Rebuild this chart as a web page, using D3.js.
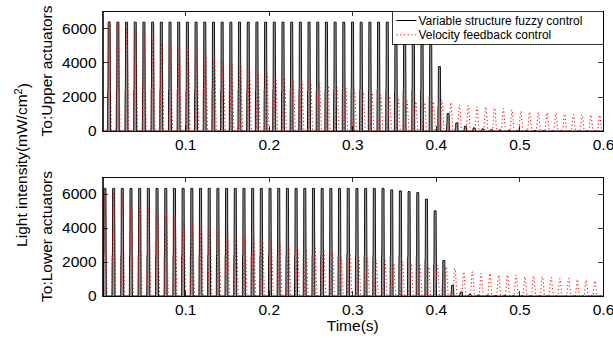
<!DOCTYPE html>
<html>
<head>
<meta charset="utf-8">
<title>Light intensity</title>
<style>
  body { margin: 0; background: #fff; }
  svg text { font-family: "Liberation Sans", Arial, sans-serif; fill: #000; }
  .axis path, .axis line { stroke: #000; stroke-width: 0.8; shape-rendering: crispEdges; }
  .axis text { font-size: 15.5px; }
</style>
</head>
<body>
<svg id="chart"></svg>
<script src="https://d3js.org/d3.v7.min.js"></script>
<script>
// tick values
const xTicks = [0.1, 0.2, 0.3, 0.4, 0.5, 0.6];
const yTicks = [0, 2000, 4000, 6000];
const xDomain = [0.001, 0.6];
const yDomain = [0, 7000];

// peak value of each cycle (mW/cm^2)
// variable structure fuzzy control, upper actuators (first peak 0.0091 s, period 0.0104 s)
const upperFuzzyStart = 0.0091, upperFuzzyPeriod = 0.0104;
const upperFuzzyPeaks = [
  6350, 6350, 6350, 6350, 6350, 6350, 6350, 6350, 6350, 6350,
  6350, 6350, 6350, 6350, 6350, 6350, 6350, 6350, 6350, 6350,
  6350, 6350, 6350, 6350, 6350, 6350, 6350, 6350, 6350, 6350,
  6350, 6350, 6350, 6350, 6350, 6350, 6350, 5400, 3760, 1020,
  470, 280, 180, 120, 80, 60, 45, 35, 30, 25,
  20, 20, 15, 15, 10, 10, 10
];
// velocity feedback control, upper actuators
const upperFeedbackStart = 0.0091, upperFeedbackPeriod = 0.01048;
const upperFeedbackPeaks = [
  6450, 6200, 6050, 5820, 5570, 5370, 5140, 4940, 4850, 4750,
  4600, 4450, 4250, 4050, 3900, 3750, 3550, 3450, 3350, 3200,
  3100, 3000, 2900, 2850, 2780, 2650, 2550, 2500, 2400, 2300,
  2200, 2100, 2000, 1850, 1750, 1700, 1650, 1700, 1800, 1650,
  1520, 1470, 1400, 1380, 1330, 1300, 1220, 1150, 1100, 1080,
  1050, 1020, 980, 950, 940, 930, 920
];
// variable structure fuzzy control, lower actuators
const lowerFuzzyStart = 0.004, lowerFuzzyPeriod = 0.0104;
const lowerFuzzyPeaks = [
  6330, 6330, 6330, 6330, 6330, 6330, 6330, 6330, 6330, 6330,
  6330, 6330, 6330, 6330, 6330, 6330, 6330, 6330, 6330, 6330,
  6330, 6330, 6330, 6330, 6330, 6330, 6330, 6330, 6330, 6330,
  6330, 6330, 6330, 6240, 6180, 6140, 6080, 5700, 5010, 2090,
  620, 230, 100, 60, 40, 30, 25, 20, 20, 15,
  15, 10, 10, 10, 10, 10, 10, 10
];
// velocity feedback control, lower actuators
const lowerFeedbackStart = 0.004, lowerFeedbackPeriod = 0.01047;
const lowerFeedbackPeaks = [
  6380, 6150, 5950, 5700, 5500, 5200, 4950, 4820, 4700, 4400,
  4250, 4120, 3900, 3820, 3720, 3620, 3530, 3380, 3330, 3250,
  3080, 2900, 2870, 2750, 2870, 2680, 2580, 2290, 2480, 2290,
  2190, 2090, 2090, 1900, 2000, 1900, 1800, 1700, 1800, 1700,
  1600, 1410, 1410, 1310, 1310, 1220, 1220, 1220, 1120, 1160,
  1120, 1080, 1020, 1020, 960, 920, 880
];

const legendLabels = ["Variable structure fuzzy control", "Velocity feedback control"];

// pulse outline around each peak: [time offset (s), fraction of peak]
const fuzzyShape = [[-0.0020, 0], [-0.0018, 0.37], [-0.0015, 0.39], [-0.0013, 1], [0.0011, 1], [0.0016, 0]];
const feedbackShape = [[-0.0024, 0], [-0.0004, 1], [0.0004, 1], [0.0024, 0]];

function pulses(start, period, peaks, shape) {
  let pts = [[xDomain[0] - 0.01, 0]];
  peaks.forEach(function(v, i) {
    const tp = start + i * period;
    shape.forEach(function(s) { pts.push([tp + s[0], s[1] * v]); });
  });
  pts.push([xDomain[1] + 0.01, 0]);
  return pts;
}

const W = 613, H = 338;
const left = 102.5, right = 603;
const panels = [
  {top: 11, bottom: 131, label: "To:Upper actuators",
   fuzzy: pulses(upperFuzzyStart, upperFuzzyPeriod, upperFuzzyPeaks, fuzzyShape),
   feedback: pulses(upperFeedbackStart, upperFeedbackPeriod, upperFeedbackPeaks, feedbackShape),
   legend: true},
  {top: 177, bottom: 296, label: "To:Lower actuators",
   fuzzy: pulses(lowerFuzzyStart, lowerFuzzyPeriod, lowerFuzzyPeaks, fuzzyShape),
   feedback: pulses(lowerFeedbackStart, lowerFeedbackPeriod, lowerFeedbackPeaks, feedbackShape),
   legend: false}
];

const svg = d3.select("#chart").attr("width", W).attr("height", H);

const x = d3.scaleLinear().domain(xDomain).range([left, right]);

panels.forEach(function(p, idx) {
  const y = d3.scaleLinear().domain(yDomain).range([p.bottom, p.top]);
  const clipId = "clip" + idx;
  svg.append("clipPath").attr("id", clipId)
    .append("rect")
    .attr("x", left).attr("y", p.top)
    .attr("width", right - left).attr("height", p.bottom - p.top);

  const line = d3.line()
    .x(function(d) { return x(d[0]); })
    .y(function(d) { return y(d[1]); });

  const g = svg.append("g").attr("clip-path", "url(#" + clipId + ")");
  g.append("path")
    .datum(p.fuzzy)
    .attr("fill", "#999")
    .attr("stroke", "#000")
    .attr("stroke-width", 0.9)
    .attr("stroke-linejoin", "round")
    .attr("d", line);
  g.append("path")
    .datum(p.feedback)
    .attr("fill", "none")
    .attr("stroke", "#ff0000")
    .attr("stroke-width", 1)
    .attr("stroke-dasharray", "1.2,2.5")
    .attr("d", line);

  // axes, ticks pointing inwards on all four sides
  svg.append("g").attr("class", "axis")
    .attr("transform", "translate(0," + p.bottom + ")")
    .call(d3.axisBottom(x).tickValues(xTicks).tickSizeInner(-5).tickSizeOuter(0).tickPadding(8).tickFormat(d3.format(".1f")))
    .selectAll("text").attr("dy", "0.71em");
  svg.append("g").attr("class", "axis")
    .attr("transform", "translate(0," + p.top + ")")
    .call(d3.axisTop(x).tickValues(xTicks).tickSizeInner(-5).tickSizeOuter(0).tickFormat(""));
  svg.append("g").attr("class", "axis")
    .attr("transform", "translate(" + left + ",0)")
    .call(d3.axisLeft(y).tickValues(yTicks).tickSizeInner(-5).tickSizeOuter(0).tickPadding(6).tickFormat(d3.format("d")));
  svg.append("g").attr("class", "axis")
    .attr("transform", "translate(" + right + ",0)")
    .call(d3.axisRight(y).tickValues(yTicks).tickSizeInner(-5).tickSizeOuter(0).tickFormat(""));

  svg.append("rect")
    .attr("x", left).attr("y", p.top)
    .attr("width", right - left).attr("height", p.bottom - p.top)
    .attr("fill", "none").attr("stroke", "#000").attr("stroke-width", 0.8)
    .attr("shape-rendering", "crispEdges");

  svg.append("text")
    .attr("transform", "translate(51.5," + ((p.top + p.bottom) / 2) + ") rotate(-90)")
    .attr("text-anchor", "middle")
    .style("font-size", "15.5px")
    .text(p.label);

  if (p.legend) {
    const lg = svg.append("g");
    lg.append("rect")
      .attr("x", 392.5).attr("y", p.top)
      .attr("width", right - 392.5).attr("height", 33)
      .attr("fill", "#fff").attr("stroke", "#000").attr("stroke-width", 0.8)
      .attr("shape-rendering", "crispEdges");
    const styles = [{stroke: "#000", dash: null}, {stroke: "#ff0000", dash: "1.2,2.5"}];
    legendLabels.forEach(function(t, i) {
      const ly = p.top + 9.5 + i * 14.3;
      lg.append("line")
        .attr("x1", 396.5).attr("x2", 416.5)
        .attr("y1", ly).attr("y2", ly)
        .attr("stroke", styles[i].stroke)
        .attr("stroke-width", 1)
        .attr("stroke-dasharray", styles[i].dash);
      lg.append("text")
        .attr("x", 418.5).attr("y", ly + 4.3)
        .style("font-size", "12px")
        .text(t);
    });
  }
});

// shared y label
const yl = svg.append("text")
  .attr("transform", "translate(26.5,165) rotate(-90)")
  .attr("text-anchor", "middle")
  .style("font-size", "15.5px");
yl.append("tspan").text("Light intensity(mW/cm");
yl.append("tspan").attr("dy", "-0.45em").style("font-size", "11px").text("2");
yl.append("tspan").attr("dy", "0.45em").text(")");

svg.append("text")
  .attr("x", (left + right) / 2).attr("y", 331)
  .attr("text-anchor", "middle")
  .style("font-size", "15.5px")
  .text("Time(s)");
</script>
</body>
</html>
